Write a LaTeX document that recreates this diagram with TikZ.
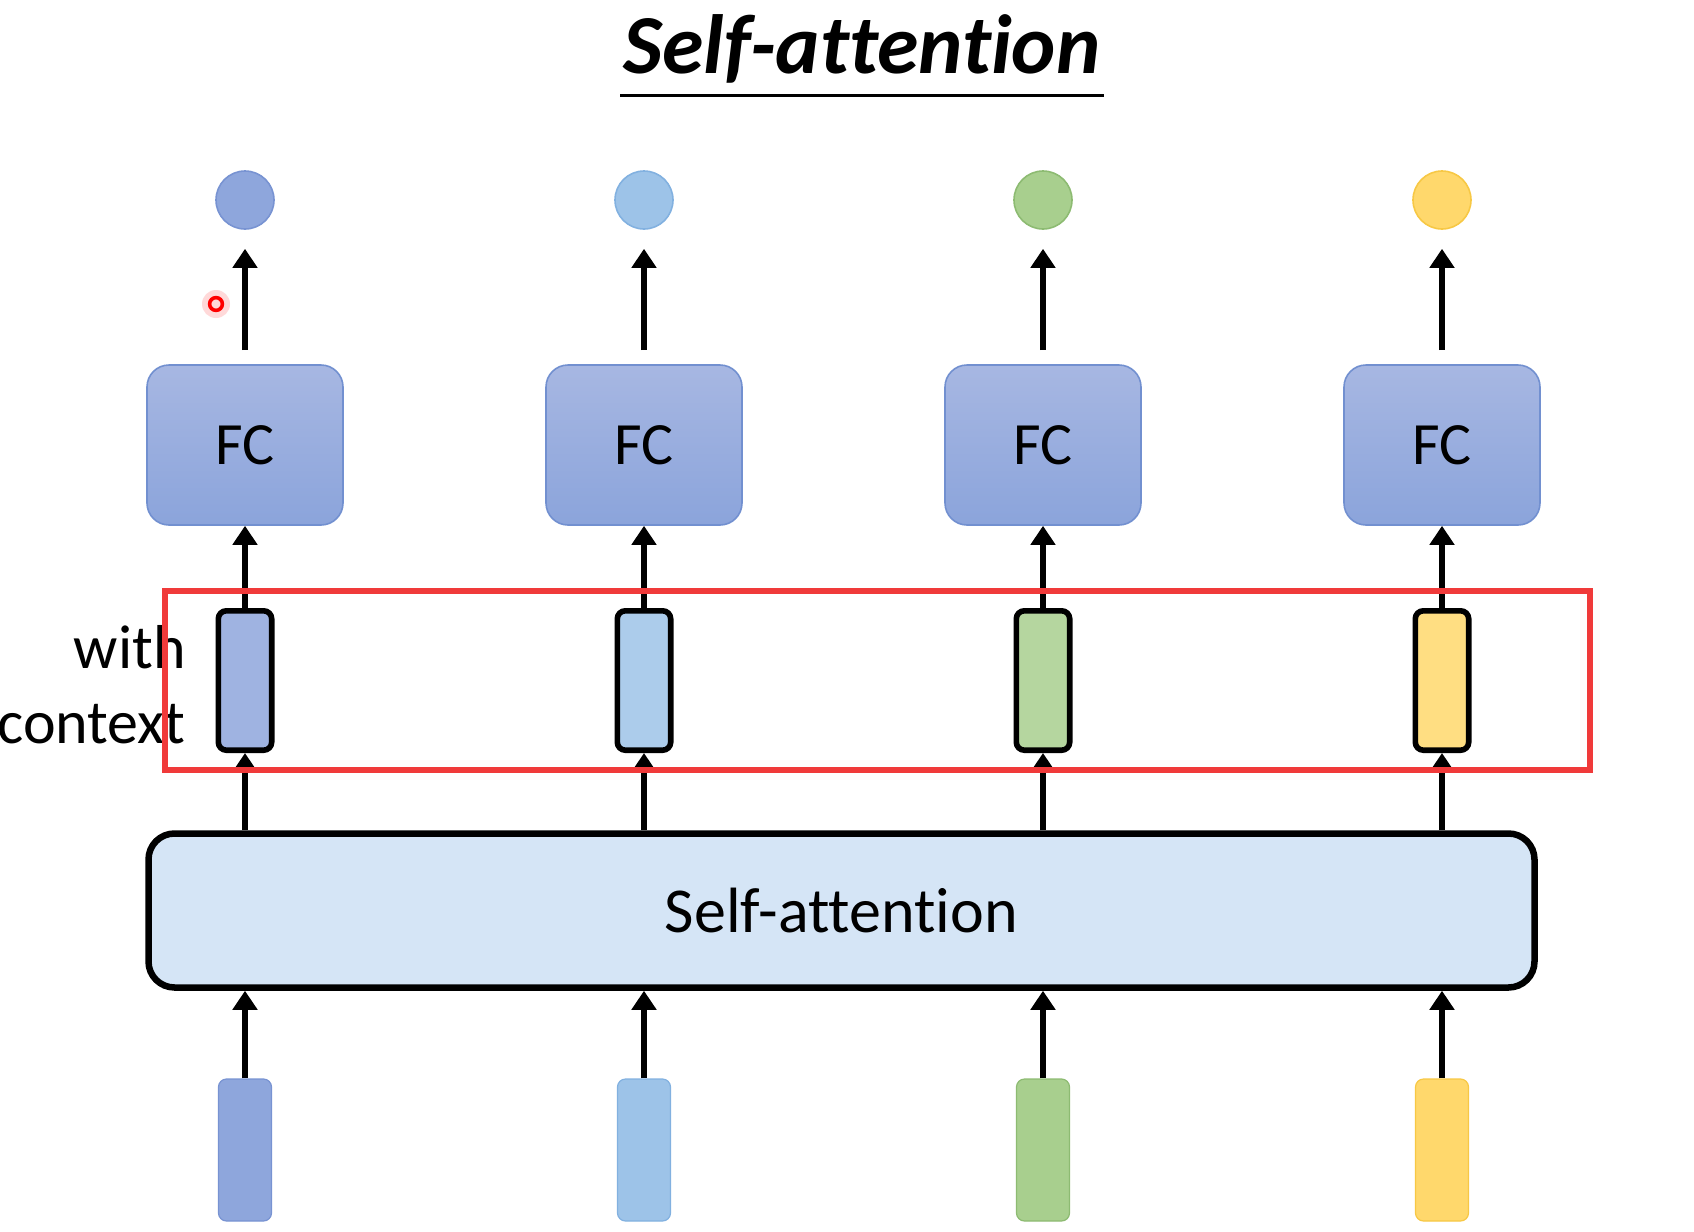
\documentclass[tikz,border=0pt]{standalone}
\usepackage{fontspec}
\setmainfont{Carlito}[Ligatures=NoCommon]
\usepackage{xcolor}
\usetikzlibrary{arrows.meta,positioning}
\definecolor{TokBlue}{HTML}{8EA6DC}
\definecolor{TokSky}{HTML}{9DC3E8}
\definecolor{TokGreen}{HTML}{A8CF8E}
\definecolor{TokYellow}{HTML}{FFD86C}
\definecolor{EdgeBlue}{HTML}{7893D2}
\definecolor{EdgeSky}{HTML}{82B1E0}
\definecolor{EdgeGreen}{HTML}{8DBB72}
\definecolor{EdgeYellow}{HTML}{F7C845}
\definecolor{FcTop}{HTML}{A7B7E2}
\definecolor{FcBot}{HTML}{8BA4DB}
\definecolor{FcEdge}{HTML}{7290D0}
\definecolor{AttFill}{HTML}{D5E5F6}
\definecolor{MarkRed}{HTML}{F03A3A}
\tikzset{
  attfc/.style={draw=FcEdge, top color=FcTop, bottom color=FcBot, rounded corners=11pt, line width=0.8pt, minimum width=98pt, minimum height=80pt, font=\fontsize{30}{36}\selectfont},
  attout/.style={circle, line width=0.8pt, minimum size=29pt, inner sep=0pt},
  attctx/.style={draw=black, line width=2.8pt, rounded corners=4pt, minimum width=26.7pt, minimum height=69.7pt, inner sep=0pt},
  attin/.style={rounded corners=4pt, line width=0.6pt, minimum width=26.5pt, minimum height=71pt, inner sep=0pt},
  attbox/.style={draw=black, fill=AttFill, line width=3.25pt, rounded corners=13pt, minimum width=693pt, minimum height=77pt, font=\fontsize{32}{38}\selectfont},
  attlabel/.style={anchor=base east, inner sep=0pt, font=\fontsize{31}{38}\selectfont},
  attarrow/.style={-{Triangle[length=9.5pt,width=12pt]}, line width=2.9pt}
}

\begin{document}
\begin{tikzpicture}[x=0.5pt,y=-0.5pt]
  \useasboundingbox (0,0) rectangle (1694,1232);
  % title
  \node[anchor=base, font=\fontsize{42}{48}\selectfont\bfseries\itshape] (title) at (862,73) {Self-attention};
  \draw[line width=1.5pt] (620,95) -- (1104,95);
  % self-attention layer
  \node[attbox] (sa) at (841.5,910.5) {Self-attention};
  % one column per token
  \foreach \i/\xx/\col in {1/245/Blue, 2/644/Sky, 3/1043/Green, 4/1442/Yellow}{
    \node[attin, fill=Tok\col, draw=Edge\col] (in\i) at (\xx,1150) {};
    \node[attctx, fill=Tok\col!85!white] (ctx\i) at (\xx,680.5) {};
    \node[attfc] (fc\i) at (\xx,445) {FC};
    \node[attout, fill=Tok\col, draw=Edge\col] (out\i) at (\xx,200) {};
    \draw[attarrow] (in\i.north) -- (in\i.north |- sa.south);
    \draw[attarrow] (ctx\i.south |- sa.north) -- (ctx\i.south);
    \draw[attarrow] (ctx\i.north) -- (fc\i.south);
    \draw[attarrow, shorten <=7pt, shorten >=9.5pt] (fc\i.north) -- (out\i.south);
  }
  % label and highlight
  \node[attlabel] (ctxword) at (186,668) {with};
  \node[attlabel] (ctxname) at (186,743) {context};
  \draw[MarkRed, line width=2.7pt] (165,591) rectangle (1590,770);
  % pointer dot
  \fill[red, opacity=0.15] (216,304) circle (7pt);
  \draw[red, line width=1.8pt] (216,304) circle (3.2pt);
\end{tikzpicture}
\end{document}
